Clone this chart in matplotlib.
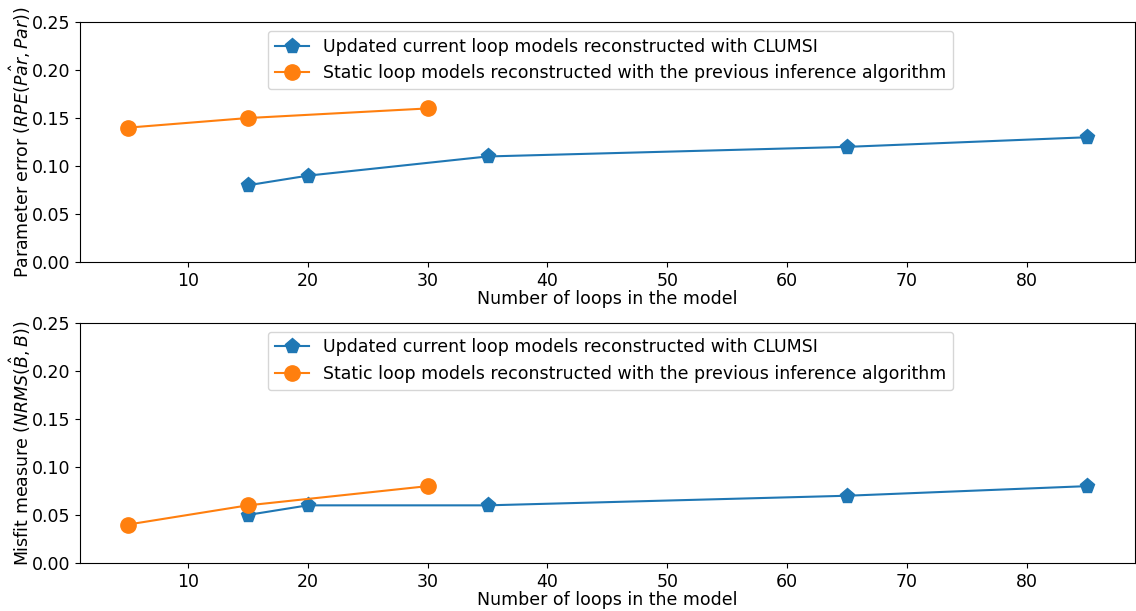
import matplotlib
matplotlib.use("Agg")
from matplotlib import pyplot as plt

# data
loops_clumsi = [15, 20, 35, 65, 85]
loops_static = [5, 15, 30]
par_err_clumsi = [0.08, 0.09, 0.11, 0.12, 0.13]
par_err_static = [0.14, 0.15, 0.16]
misfit_clumsi = [0.05, 0.06, 0.06, 0.07, 0.08]
misfit_static = [0.04, 0.06, 0.08]

label_clumsi = "Updated current loop models reconstructed with CLUMSI"
label_static = "Static loop models reconstructed with the previous inference algorithm"
y_labels = [r"Parameter error ($RPE(\hat{Par}, Par)$)",
            r"Misfit measure ($NRMS(\hat{B}, B)$)"]


def main():
  plt.rcParams['font.size'] = 12.5
  fig = plt.figure(figsize=(11.36, 6.11), dpi=100)
  ax1 = fig.add_axes([0.0704, 0.571, 0.9285, 0.393])
  ax2 = fig.add_axes([0.0704, 0.0786, 0.9285, 0.393])

  series = [(ax1, par_err_clumsi, par_err_static, y_labels[0]),
            (ax2, misfit_clumsi, misfit_static, y_labels[1])]
  for ax, blue, orange, ylab in series:
    ax.plot(loops_clumsi, blue, marker='p', markersize=11, color='#1f77b4', label=label_clumsi)
    ax.plot(loops_static, orange, marker='o', markersize=11, color='#ff7f0e', label=label_static)
    ax.set_ylim(0, 0.25)
    ax.set_yticks([0, 0.05, 0.10, 0.15, 0.20, 0.25])
    ax.set_xlim(1, 89)
    ax.set_xlabel('Number of loops in the model', labelpad=0)
    ax.set_ylabel(ylab, labelpad=-1)
    ax.legend(loc='upper center', bbox_to_anchor=(0.503, 1.0))

  fig.savefig('out.png', dpi=100)


if __name__ == '__main__':
  main()
